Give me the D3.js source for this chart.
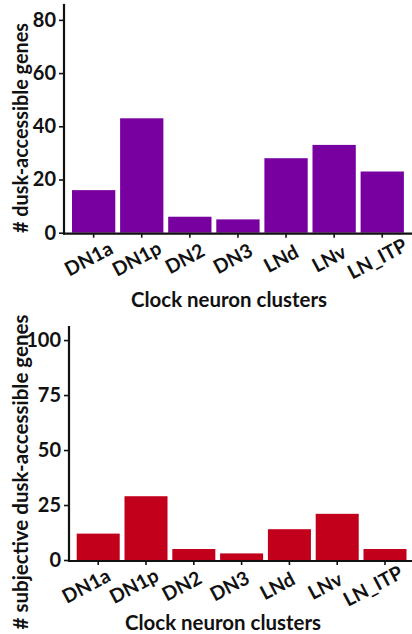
<!DOCTYPE html>
<html>
<head>
<meta charset="utf-8">
<script src="https://cdn.jsdelivr.net/npm/d3@7"></script>
<style>
  html, body { margin: 0; padding: 0; background: #ffffff; }
  svg { display: block; }
  text { font-family: Lato, "Open Sans", sans-serif; font-weight: 700; fill: #111; }
</style>
</head>
<body>
<svg id="chart" width="412" height="634"></svg>
<script>
// ---- data ----
const categories = ["DN1a", "DN1p", "DN2", "DN3", "LNd", "LNv", "LN_ITP"];
const duskValues = [16, 43, 6, 5, 28, 33, 23];
const subjectiveDuskValues = [12, 29, 5, 3, 14, 21, 5];
const duskTicks = [0, 20, 40, 60, 80];
const subjectiveTicks = [0, 25, 50, 75, 100];
const xTitle = "Clock neuron clusters";
const duskYTitle = "# dusk-accessible genes";
const subjectiveYTitle = "# subjective dusk-accessible genes";

// ---- layout ----
const svg = d3.select("#chart");
const W = 412;
const FONT = 'Lato, "Open Sans", sans-serif';

function squeeze(sel, size, target) {
  sel.style("font-size", size + "px");
  const len = sel.node().getComputedTextLength();
  if (len > target) sel.attr("textLength", target).attr("lengthAdjust", "spacingAndGlyphs");
}

function panel(cfg) {
  const g = svg.append("g");
  const y = d3.scaleLinear().domain([0, cfg.yMax]).range([cfg.y0, cfg.yTop]);
  const step = cfg.step, po = 0.05;
  const r0 = cfg.firstBar - step * po;
  const x = d3.scaleBand().domain(categories).range([r0, r0 + step * 7])
    .paddingInner(0.1).paddingOuter(po);

  // bars
  g.selectAll("rect.bar").data(categories).join("rect")
    .attr("class", "bar")
    .attr("x", d => x(d))
    .attr("width", x.bandwidth())
    .attr("y", (d, i) => y(cfg.values[i]))
    .attr("height", (d, i) => y(0) - y(cfg.values[i]))
    .attr("fill", cfg.color);

  // y axis
  const yAxis = g.append("g")
    .attr("transform", `translate(${cfg.axisX},0)`)
    .call(d3.axisLeft(y).tickValues(cfg.ticks).tickSize(5).tickSizeOuter(0).tickPadding(3));
  yAxis.select(".domain").remove();
  yAxis.selectAll(".tick line").attr("stroke", "#111").attr("stroke-width", 1.6);
  yAxis.selectAll(".tick text").style("font-size", "20px").attr("fill", "#111")
    .style("font-family", FONT).style("font-weight", 700);
  g.append("line")
    .attr("x1", cfg.axisX).attr("x2", cfg.axisX)
    .attr("y1", cfg.yTop).attr("y2", cfg.y0 + 2)
    .attr("stroke", "#111").attr("stroke-width", 2.2);

  // x axis
  const xAxis = g.append("g")
    .attr("transform", `translate(0,${cfg.y0 + 1})`)
    .call(d3.axisBottom(x).tickSize(4).tickSizeOuter(0));
  xAxis.select(".domain").remove();
  xAxis.selectAll(".tick line").attr("stroke", "#111").attr("stroke-width", 1.6);
  xAxis.selectAll(".tick text")
    .attr("y", 0).attr("dy", "0.35em")
    .attr("text-anchor", "middle")
    .attr("transform", `translate(${cfg.labelDx},${cfg.labelDy}) rotate(-28)`)
    .style("font-size", "19.5px").attr("fill", "#111")
    .style("font-family", FONT).style("font-weight", 700);
  g.append("line")
    .attr("x1", cfg.axisX - 1).attr("x2", W)
    .attr("y1", cfg.y0 + 1).attr("y2", cfg.y0 + 1)
    .attr("stroke", "#111").attr("stroke-width", 2.2);

  // titles
  const xt = g.append("text")
    .attr("x", cfg.xTitleX).attr("y", cfg.xTitleY)
    .attr("text-anchor", "middle")
    .text(xTitle);
  squeeze(xt, 21, 196);
  const yt = g.append("text")
    .attr("transform", `translate(${cfg.yTitleX},${cfg.yTitleY}) rotate(-90)`)
    .attr("text-anchor", "middle")
    .text(cfg.yTitle);
  squeeze(yt, 20.5, cfg.yTitleLen);
}

panel({
  values: duskValues, ticks: duskTicks, color: "#7800a0",
  yMax: 86, y0: 232.7, yTop: 3.9, axisX: 64,
  firstBar: 72, step: 48.1,
  labelDx: -5, labelDy: 25,
  xTitleX: 229, xTitleY: 307,
  yTitle: duskYTitle, yTitleX: 28, yTitleY: 128, yTitleLen: 210
});

panel({
  values: subjectiveDuskValues, ticks: subjectiveTicks, color: "#c2001b",
  yMax: 106.4, y0: 560, yTop: 326, axisX: 69,
  firstBar: 76.7, step: 47.8,
  labelDx: -12, labelDy: 25,
  xTitleX: 223, xTitleY: 630,
  yTitle: subjectiveYTitle, yTitleX: 28, yTitleY: 472, yTitleLen: 320
});
</script>
</body>
</html>
